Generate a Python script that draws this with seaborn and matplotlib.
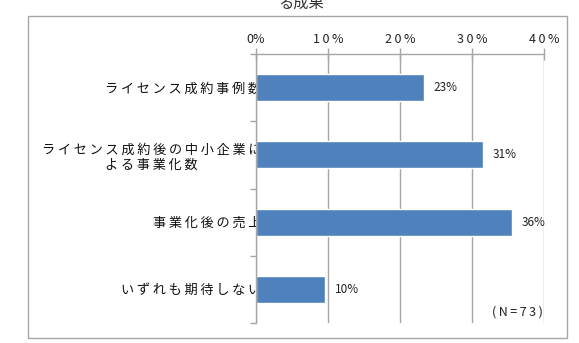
import matplotlib
matplotlib.use('Agg')
import matplotlib.pyplot as plt
from matplotlib.patches import Rectangle
from matplotlib.ticker import FixedLocator
import pandas as pd
import seaborn as sns

# データ
categories = ['ライセンス成約事例数',
              'ライセンス成約後の中小企業に\nよる事業化数',
              '事業化後の売上',
              'いずれも期待しない']
values = [23.3, 31.5, 35.6, 9.6]
value_labels = ['23%', '31%', '36%', '10%']
x_ticks = [0, 10, 20, 30, 40]
x_tick_labels = ['0%', '10%', '20%', '30%', '40%']
title_tail = 'る成果'
note = '(N=73)'

BAR_COLOR = '#4F81BD'
GRID_COLOR = '#A6A6A6'
JP = ['Noto Sans CJK JP', 'DejaVu Sans']
THIN = '\u2009'


def spaced(text):
    # Excel風の字間（細いスペース）
    return '\n'.join(THIN.join(line) for line in text.split('\n'))


sns.set_theme(style='white')
plt.rcParams['font.family'] = JP

df = pd.DataFrame({'cat': categories, 'val': values})

fig = plt.figure(figsize=(5.79, 3.43), dpi=100)
ax = fig.add_axes([256 / 579, 20 / 343, 288 / 579, 269 / 343])

sns.barplot(data=df, y='cat', x='val', orient='h', color=BAR_COLOR,
            saturation=1, width=0.4, ax=ax)

ax.set_xlim(0, 40)
ax.set_ylim(len(categories) - 0.5, -0.5)
ax.set_xlabel('')
ax.set_ylabel('')

# 上側のX軸
ax.xaxis.tick_top()
ax.set_xticks(x_ticks)
ax.set_xticklabels([l if l == '0%' else THIN.join(l) for l in x_tick_labels],
                   fontsize=9, color='#222222')
ax.tick_params(axis='x', which='major', direction='inout', length=8,
               width=1, color=GRID_COLOR, pad=2)
ax.grid(axis='x', color=GRID_COLOR, linewidth=1)
ax.set_axisbelow(True)

# Y軸ラベル
ax.set_yticks(range(len(categories)))
ax.set_yticklabels([spaced(c) for c in categories], fontsize=9.5, color='#111111')
for lab in ax.get_yticklabels():
    lab.set_multialignment('center')
ax.tick_params(axis='y', which='major', length=0, pad=-4)
ax.yaxis.set_minor_locator(FixedLocator([i + 0.5 for i in range(-1, len(categories))]))
ax.tick_params(axis='y', which='minor', direction='out', length=4,
               width=1, color=GRID_COLOR, left=True)

for side in ['right', 'bottom']:
    ax.spines[side].set_visible(False)
for side in ['top', 'left']:
    ax.spines[side].set_color(GRID_COLOR)
    ax.spines[side].set_linewidth(1)

# 値ラベル
for i, (v, lab) in enumerate(zip(values, value_labels)):
    ax.annotate(lab, xy=(v, i), xytext=(7, 0), textcoords='offset points',
                ha='left', va='center', fontsize=8.5, color='#222222')

ax.text(0.997, 0.015, THIN.join(note), transform=ax.transAxes,
        ha='right', va='bottom', fontsize=9, color='#222222')

# 外枠とタイトルの端（元画像でも上端で切れている）
fig.patches.append(Rectangle((28 / 579, 5 / 343), 539 / 579, 322 / 343,
                             transform=fig.transFigure, fill=False,
                             edgecolor=GRID_COLOR, linewidth=1))
fig.text(301 / 579, 340 / 343, title_tail, ha='center', va='center',
         fontsize=11, color='#333333')

fig.savefig('out.png', dpi=100, facecolor='white')
